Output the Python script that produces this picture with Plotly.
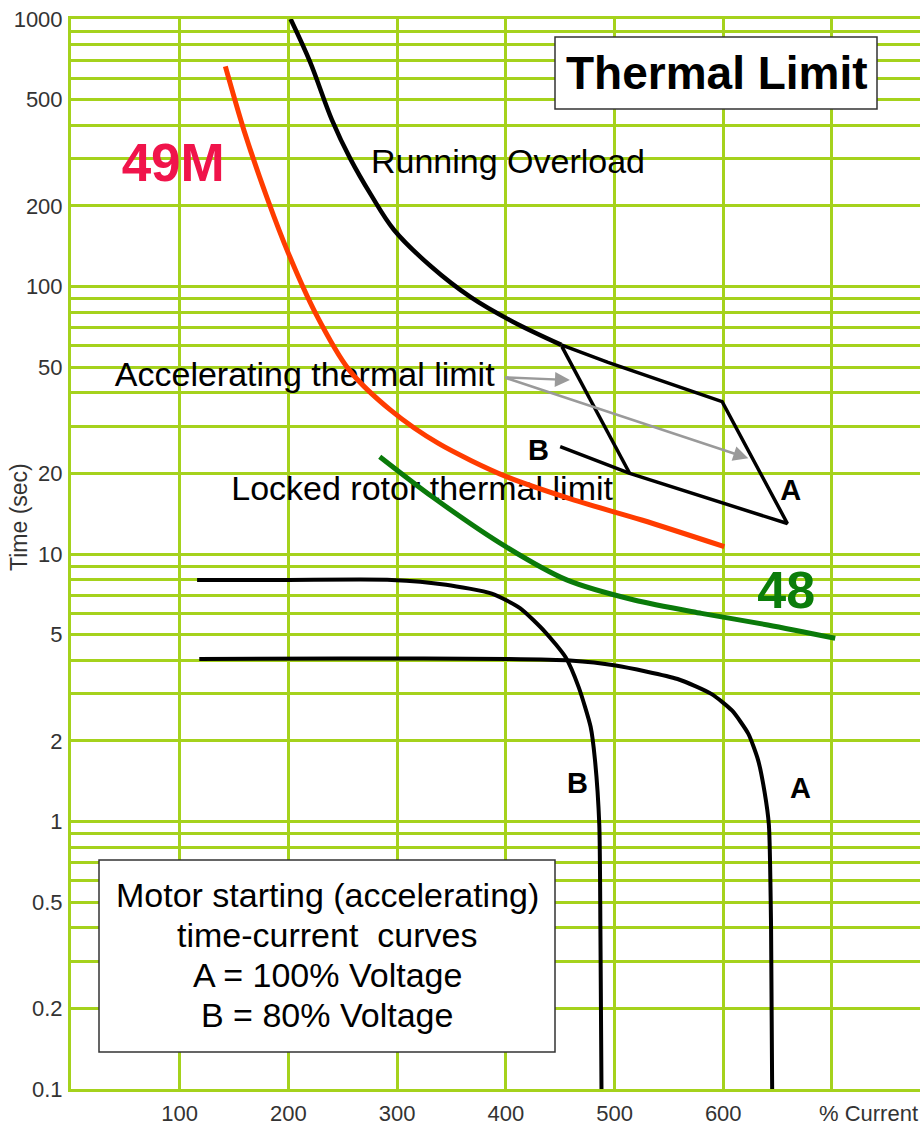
import math
import plotly.graph_objects as go

# ---------------- data ----------------
x_tick_vals = [0, 100, 200, 300, 400, 500, 600, 700]
x_tick_labels = ["", "100", "200", "300", "400", "500", "600", ""]

y_tick_vals = [m * 10.0 ** e for e in range(-1, 3) for m in range(1, 10)] + [1000]
y_label_set = {0.1: "0.1", 0.2: "0.2", 0.5: "0.5", 1: "1", 2: "2", 5: "5", 10: "10",
               20: "20", 50: "50", 100: "100", 200: "200", 500: "500", 1000: "1000"}
y_tick_labels = [next((lab for v, lab in y_label_set.items() if abs(v - t) < 1e-9), "") for t in y_tick_vals]

# Running overload curve (% current, seconds)
overload_x = [202, 220, 240, 257, 276, 297, 331, 368, 406, 451]
overload_y = [1000, 690, 420, 300, 220, 163, 119, 91, 74, 60.5]

# Accelerating thermal limit envelope, A (100% voltage)
accelA_x = [451, 494, 599, 659, 514, 450]
accelA_y = [60.5, 52.0, 37.1, 13.0, 20.0, 25.2]
# Accelerating thermal limit, B edge (80% voltage)
accelB_x = [451.6, 514]
accelB_y = [59.6, 20.0]

# 49M relay curve
m49_x = [142, 159, 181, 200, 225, 256, 294, 338, 400, 463, 525, 601]
m49_y = [665, 385, 211, 133, 79.4, 48.7, 34.5, 25.9, 19.5, 15.9, 13.4, 10.65]

# 48 relay curve
r48_x = [284, 332, 400, 456, 518, 580, 641, 703]
r48_y = [23.1, 16.4, 10.65, 8.0, 6.73, 6.0, 5.43, 4.84]

# Motor starting curves
startA_x = [118, 250, 402, 459, 501, 558, 589, 608, 623, 632, 638, 642, 644, 645]
startA_y = [4.05, 4.07, 4.05, 4.0, 3.83, 3.41, 3.0, 2.6, 2.13, 1.70, 1.29, 0.97, 0.4, 0.1]
startB_x = [116, 200, 295, 345, 387, 413, 436, 455, 467, 478, 482, 486, 487, 488]
startB_y = [8.0, 8.0, 8.0, 7.68, 7.11, 6.28, 5.12, 4.11, 3.18, 2.26, 1.70, 0.97, 0.4, 0.1]

# Arrows from "Accelerating thermal limit" label (tail -> head)
arrow_tail = (398, 45.8)
arrow_heads = [(459, 44.7), (623, 22.8)]

# Labels in data coordinates
labels = [
    ("49M", 94, 277, 53, "#F0144B", True),
    ("48", 658, 7.03, 52, "#0B7D0B", True),
    ("Running Overload", 402, 287, 34, "#000000", False),
    ("Accelerating thermal limit", 215, 45.5, 34, "#000000", False),
    ("Locked rotor thermal limit", 323, 17.2, 34, "#000000", False),
    ("B", 430, 24.0, 29, "#000000", True),
    ("A", 662, 17.0, 29, "#000000", True),
    ("B", 466, 1.36, 29, "#000000", True),
    ("A", 671, 1.30, 29, "#000000", True),
]

# ---------------- layout geometry ----------------
W, H = 920, 1126
ML, MR, MT, MB = 71, 0, 19, 37
PW, PH = W - ML - MR, H - MT - MB
GRID = "#A5D21C"
FONT = "Liberation Sans, Arial, sans-serif"


def pp(px, py):
    return (px - ML) / PW, 1 - (py - MT) / PH


fig = go.Figure()

for txt, x, y, size, color, bold in labels:
    fig.add_trace(go.Scatter(
        x=[x], y=[y], mode="text",
        text=["<b>%s</b>" % txt if bold else txt],
        textposition="middle center",
        textfont=dict(family=FONT, size=size, color=color),
        showlegend=False, hoverinfo="skip"))

fig.add_trace(go.Scatter(x=overload_x, y=overload_y, mode="lines",
                         line=dict(color="black", width=4.5, shape="spline", smoothing=1.0),
                         showlegend=False))
fig.add_trace(go.Scatter(x=accelA_x, y=accelA_y, mode="lines",
                         line=dict(color="black", width=3.5), showlegend=False))
fig.add_trace(go.Scatter(x=accelB_x, y=accelB_y, mode="lines",
                         line=dict(color="black", width=3.5), showlegend=False))
fig.add_trace(go.Scatter(x=m49_x, y=m49_y, mode="lines",
                         line=dict(color="#FF3C00", width=5, shape="spline", smoothing=0.8),
                         showlegend=False))
fig.add_trace(go.Scatter(x=r48_x, y=r48_y, mode="lines",
                         line=dict(color="#0A7A0A", width=5, shape="spline", smoothing=0.8),
                         showlegend=False))
fig.add_trace(go.Scatter(x=startA_x, y=startA_y, mode="lines",
                         line=dict(color="black", width=4, shape="spline", smoothing=0.6),
                         showlegend=False))
fig.add_trace(go.Scatter(x=startB_x, y=startB_y, mode="lines",
                         line=dict(color="black", width=4, shape="spline", smoothing=0.6),
                         showlegend=False))

# arrows
for hx, hy in arrow_heads:
    fig.add_annotation(x=hx, y=math.log10(hy), ax=arrow_tail[0], ay=math.log10(arrow_tail[1]),
                       xref="x", yref="y", axref="x", ayref="y", text="",
                       showarrow=True, arrowhead=2, arrowsize=1.2, arrowwidth=2.5,
                       arrowcolor="#9A9A9A")

shapes = []
# white backgrounds behind curve labels (between grid and traces)
for (x0, y0, x1, y1) in [(350, 147, 658, 181), (104, 366, 502, 394), (220, 474, 622, 512)]:
    a0, b0 = pp(x0, y1)
    a1, b1 = pp(x1, y0)
    shapes.append(dict(type="rect", xref="paper", yref="paper", x0=a0, y0=b0, x1=a1, y1=b1,
                       fillcolor="white", line=dict(width=0), layer="between"))
# boxes
for (x0, y0, x1, y1) in [(555, 37, 877, 109), (99, 860, 555, 1052)]:
    a0, b0 = pp(x0, y1)
    a1, b1 = pp(x1, y0)
    shapes.append(dict(type="rect", xref="paper", yref="paper", x0=a0, y0=b0, x1=a1, y1=b1,
                       fillcolor="white", line=dict(color="#333333", width=1.5), layer="above"))


def note(px, py, text, size, color="black", angle=0):
    ax_, ay_ = pp(px, py)
    fig.add_annotation(x=ax_, y=ay_, xref="paper", yref="paper", showarrow=False,
                       xanchor="center", yanchor="middle", textangle=angle,
                       text=text, font=dict(family=FONT, size=size, color=color))


note(717, 73, "<b>Thermal Limit</b>", 46)
for i, line in enumerate(["Motor starting (accelerating)", "time-current&nbsp; curves",
                          "A = 100% Voltage", "B = 80% Voltage"]):
    note(327, 895 + 40 * i, line, 34)
note(868, 1113, "% Current", 22, "#333333")
note(19, 517, "Time (sec)", 23, "#333333", -90)

fig.update_layout(
    width=W, height=H,
    margin=dict(l=ML, r=MR, t=MT, b=MB, pad=0, autoexpand=False),
    paper_bgcolor="white", plot_bgcolor="white",
    shapes=shapes,
    xaxis=dict(range=[0, 781], tickvals=x_tick_vals, ticktext=x_tick_labels,
               automargin=False,
               showgrid=True, gridcolor=GRID, gridwidth=3, zeroline=False,
               showline=True, linecolor=GRID, linewidth=3, mirror=True,
               ticks="outside", ticklen=3, tickcolor="rgba(0,0,0,0)",
               tickfont=dict(family=FONT, size=22, color="#333333")),
    yaxis=dict(type="log", range=[-1, 3], tickvals=y_tick_vals, ticktext=y_tick_labels,
               automargin=False,
               showgrid=True, gridcolor=GRID, gridwidth=3, zeroline=False,
               showline=True, linecolor=GRID, linewidth=3,
               ticks="outside", ticklen=1, tickcolor="rgba(0,0,0,0)",
               tickfont=dict(family=FONT, size=22, color="#333333")),
)

fig.write_html("out.html", config={"displayModeBar": False},
               post_script="document.body.style.margin='0';document.body.style.padding='0';")
